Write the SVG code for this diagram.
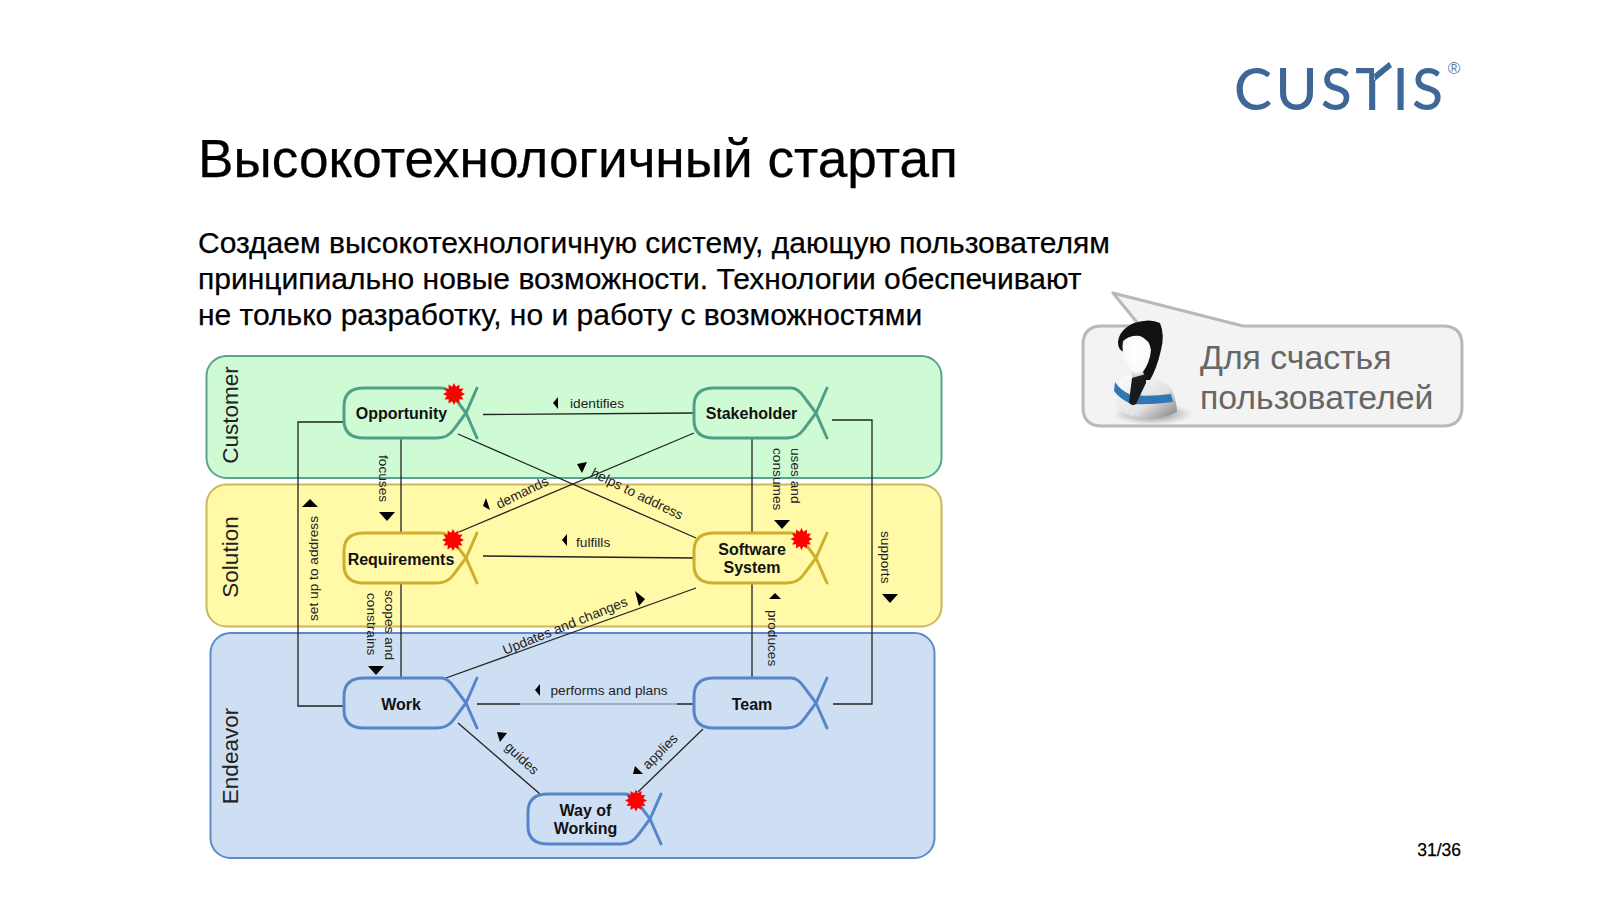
<svg xmlns="http://www.w3.org/2000/svg" width="1600" height="900" viewBox="0 0 1600 900">
<style>
text{font-family:"Liberation Sans",Arial,sans-serif;fill:#000}
.band{stroke-width:2}
.bl{font-size:22.5px;fill:#222}
.n{font-size:16px;font-weight:bold;text-anchor:middle;fill:#111}
.l{font-size:13.7px;fill:#222}
.c{fill:none;stroke:#222;stroke-width:1.3}
.g{fill:none;stroke-width:3;stroke-linecap:round}
.gr{stroke:#4f9f86}.ye{stroke:#cdaf2b}.bu{stroke:#5585cc}
.a{fill:#000;stroke:none}
.b{stroke:#000;stroke-width:.25}
</style>
<defs>
<polygon id="burst" fill="#f00" points="0,-11 1.900,-7.200 5.500,-9.500 5.300,-5.300 9.500,-5.500 7.200,-1.900 11,0 7.200,1.900 9.500,5.500 5.300,5.300 5.500,9.500 1.900,7.200 0,11 -1.900,7.200 -5.500,9.500 -5.300,5.300 -9.500,5.500 -7.200,1.900 -11,0 -7.200,-1.900 -9.500,-5.500 -5.300,-5.300 -5.500,-9.500 -1.900,-7.200"/>
<path id="shape" d="M441,0H364Q344,0 344,18V32Q344,50 364,50H437Q448,50 454,41L466,25L477,0M441,0Q448,0 454,9L466,25L477,50"/>
<linearGradient id="shirt" x1="0" y1="0" x2="1" y2="1"><stop offset="0" stop-color="#fff"/><stop offset=".6" stop-color="#e2e2e2"/><stop offset="1" stop-color="#7d7d7d"/></linearGradient>
<radialGradient id="face" cx=".5" cy=".35" r=".7"><stop offset="0" stop-color="#fff"/><stop offset=".65" stop-color="#fafafa"/><stop offset="1" stop-color="#9a9a9a"/></radialGradient>
<radialGradient id="shadow"><stop offset="0" stop-color="#666" stop-opacity=".8"/><stop offset="1" stop-color="#777" stop-opacity="0"/></radialGradient>
</defs>
<rect width="1600" height="900" fill="#fff"/>

<g id="logo">
<text x="1234" y="110" style="font-family:Lato,'Open Sans',sans-serif;font-size:57px;font-weight:500;fill:#3d6796" textLength="209" lengthAdjust="spacing">CUSTIS</text>
<path d="M1374,68H1392V80H1374Z" fill="#fff"/>
<path d="M1374,74L1389,62L1392,67L1375,81Z" fill="#3d6796"/>
<text x="1454" y="74" style="font-size:17px;fill:#5a7da6;text-anchor:middle">®</text>
</g>

<g id="heading">
<text class="b" x="198" y="177" font-size="53.2">Высокотехнологичный стартап</text>
<text class="b" x="198" y="253" font-size="30">Создаем высокотехнологичную систему, дающую пользователям</text>
<text class="b" x="198" y="289" font-size="30">принципиально новые возможности. Технологии обеспечивают</text>
<text class="b" x="198" y="325" font-size="30">не только разработку, но и работу с возможностями</text>
</g>

<g id="bands">
<rect id="band-customer" class="band" x="206.500" y="356" width="735" height="122" rx="20" fill="#cffbd4" stroke="#5ba38d"/>
<rect id="band-solution" class="band" x="206.500" y="484.500" width="735" height="142" rx="20" fill="#fff9a8" stroke="#cdb85a"/>
<rect id="band-endeavor" class="band" x="210.500" y="633" width="724" height="225" rx="20" fill="#cfdff3" stroke="#5d89c9"/>
<text class="bl" transform="translate(238,415) rotate(-90)" text-anchor="middle">Customer</text>
<text class="bl" transform="translate(238,557) rotate(-90)" text-anchor="middle">Solution</text>
<text class="bl" transform="translate(238,756) rotate(-90)" text-anchor="middle">Endeavor</text>
</g>

<g id="connectors">
<path class="c" d="M483,414.500L694,413"/>
<path class="c" d="M458,434L696,538"/>
<path class="c" d="M459,532L694,433"/>
<path class="c" d="M483,556L694,558"/>
<path class="c" d="M401,438V533"/>
<path class="c" d="M401,583V678"/>
<path class="c" d="M752,438V533"/>
<path class="c" d="M752,583V678"/>
<path class="c" d="M344,422H298V706H344"/>
<path class="c" d="M832,420H872V704H833"/>
<path class="c" d="M446,678L696,588"/>
<path class="c" d="M477,704H520M677,704H694"/>
<path class="c" style="stroke:#8c9cb2" d="M520,704H677"/>
<path class="c" d="M458,723L540,794"/>
<path class="c" d="M703,729L638,792"/>
</g>

<g id="edge-labels">
<path class="a" d="M558,397V409L553,403Z"/><text class="l" x="570" y="408">identifies</text>
<path class="a" d="M567,534V546L562,540Z"/><text class="l" x="576" y="547">fulfills</text>
<path class="a" d="M540,684V696L535,690Z"/><text class="l" x="550.500" y="695">performs and plans</text>
<path class="a" d="M302,507L310,499L318,507Z"/>
<text class="l" transform="translate(318,621) rotate(-90)">set up to address</text>
<text class="l" transform="translate(379,455) rotate(90)">focuses</text>
<path class="a" d="M379,512H395L387,521Z"/>
<text class="l" transform="translate(385,590) rotate(90)">scopes and</text>
<text class="l" transform="translate(367,593) rotate(90)">constrains</text>
<path class="a" d="M368,666H384L376,675Z"/>
<text class="l" transform="translate(773,448) rotate(90)">consumes</text>
<text class="l" transform="translate(791,448) rotate(90)">uses and</text>
<path class="a" d="M774,520H790L782,529Z"/>
<text class="l" transform="translate(881,531) rotate(90)">supports</text>
<path class="a" d="M882,594H898L890,603Z"/>
<text class="l" transform="translate(768,610) rotate(90)">produces</text>
<path class="a" d="M769,599L775,593L781,599Z"/>
<text class="l" transform="translate(499,509) rotate(-26)">demands</text>
<path class="a" d="M486,498L490,510L483,506Z"/>
<text class="l" transform="translate(590,476) rotate(26)">helps to address</text>
<path class="a" d="M577,464L587,462L582,473Z"/>
<text class="l" transform="translate(505,655) rotate(-22)">Updates and changes</text>
<path class="a" d="M635,591L645,599L639,606Z"/>
<text class="l" transform="translate(504,748) rotate(43)">guides</text>
<path class="a" d="M497,732L507,733L500,742Z"/>
<text class="l" transform="translate(648,770) rotate(-45)">applies</text>
<path class="a" d="M635,766L643,774L633,774Z"/>
</g>

<g id="node-opportunity"><use href="#shape" class="g gr" y="388"/><text class="n" x="401.500" y="419">Opportunity</text><use href="#burst" x="454" y="394"/></g>
<g id="node-stakeholder"><use href="#shape" class="g gr" x="350" y="388"/><text class="n" x="751.500" y="419">Stakeholder</text></g>
<g id="node-requirements"><use href="#shape" class="g ye" y="533"/><text class="n" x="401" y="565">Requirements</text><use href="#burst" x="453" y="540"/></g>
<g id="node-software"><use href="#shape" class="g ye" x="350" y="533"/><text class="n" x="752" y="555">Software</text><text class="n" x="752" y="573">System</text><use href="#burst" x="801.500" y="539"/></g>
<g id="node-work"><use href="#shape" class="g bu" y="678"/><text class="n" x="401" y="710">Work</text></g>
<g id="node-team"><use href="#shape" class="g bu" x="350" y="678"/><text class="n" x="752" y="710">Team</text></g>
<g id="node-way"><use href="#shape" class="g bu" x="184" y="794"/><text class="n" x="585.500" y="816">Way of</text><text class="n" x="585.500" y="834">Working</text><use href="#burst" x="636" y="800.500"/></g>

<g id="callout">
<path d="M1113,293L1243,326H1443Q1462,326 1462,345V407Q1462,426 1443,426H1102Q1083,426 1083,407V345Q1083,326 1102,326H1140Z" fill="#f3f3f3" stroke="#b7b9b8" stroke-width="3" stroke-linejoin="round"/>
<text x="1200" y="369" style="font-size:33.800px;fill:#666">Для счастья</text>
<text x="1200" y="409" style="font-size:33.800px;fill:#666">пользователей</text>
<ellipse cx="1153" cy="414" rx="40" ry="11" fill="url(#shadow)"/>
<path d="M1126,376Q1140,372 1155,378Q1170,384 1173,392Q1177,404 1177,412Q1160,420 1143,419Q1125,416 1116,407Q1112,396 1116,388Q1120,380 1126,376Z" fill="url(#shirt)"/>
<path d="M1115,382Q1120,390 1131,395Q1150,397 1171,394L1173,402Q1150,405 1131,404Q1120,399 1114,391Z" fill="#2f78b4"/>
<path d="M1118,342Q1119,330 1134,323Q1150,318 1160,323Q1165,335 1161,350Q1157,368 1150,380L1138,380L1140,352L1124,352Q1118,350 1118,342Z" fill="#111"/>
<path d="M1123,341Q1130,335 1140,336Q1150,340 1151,350Q1150,362 1143,372L1146,378L1133,380Q1131,368 1126,361Q1121,352 1123,341Z" fill="url(#face)"/>
<path d="M1132,378L1146,374L1146,383L1136,404Q1131,407 1129,402Z" fill="#1a1a1a"/>
</g>

<text id="page" class="b" x="1461" y="856" style="font-size:17.500px;text-anchor:end">31/36</text>
</svg>
